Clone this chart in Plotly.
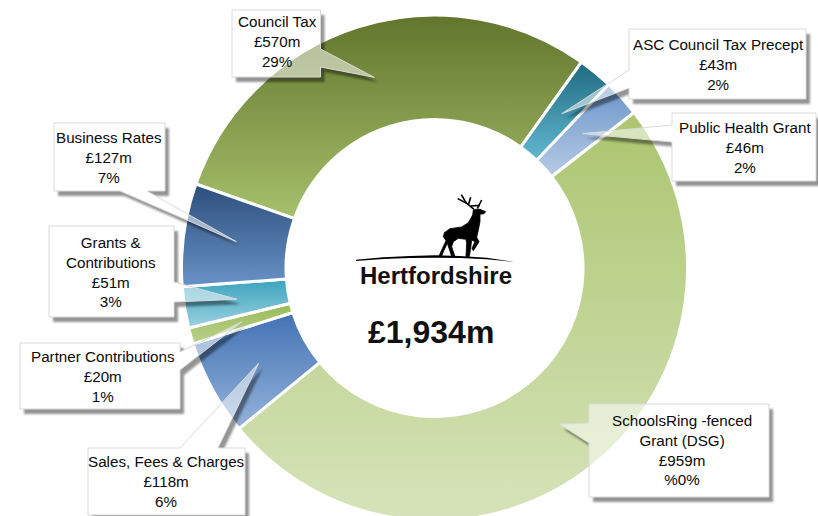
import math
import json
import plotly.graph_objects as go

W, H = 818, 524  # the page shows 516 px; the ring runs off the bottom edge as in the reference
CX, CY, R_DOMAIN, R_IN = 434.5, 268, 253, 148.5
R_MID = 200
ROTATION = -70.6

labels = ["Council Tax", "ASC Council Tax Precept", "Public Health Grant",
          "SchoolsRing -fenced<br>Grant (DSG)", "Sales, Fees & Charges",
          "Partner Contributions", "Grants &<br>Contributions", "Business Rates"]
values = [570, 43, 46, 959, 118, 20, 51, 127]
amounts = ["£570m", "£43m", "£46m", "£959m", "£118m", "£20m", "£51m", "£127m"]
shares = ["29%", "2%", "2%", "%0%", "6%", "1%", "3%", "7%"]
total_label = "£1,934m"
brand = "Hertfordshire"

grad_top = ["#61752c", "#1f6a80", "#6a95cb", "#abc56f", "#4272b4", "#9aba58", "#3aa3be", "#2d4e7b"]
grad_bot = ["#a6c06c", "#62b8d0", "#b8cbe4", "#d6e3ba", "#95b3da", "#bbd18c", "#9dd1e0", "#6892c7"]
mid_cols = ["#84a04c", "#408fa8", "#91b0d7", "#c0d494", "#6c92c7", "#aac572", "#6bbacf", "#4a70a1"]

# callout box: left, top, right, bottom (px); wedge base on box edge; text centre
boxes = [(232, 10, 320.5, 77), (629, 29, 806, 99), (672, 113, 816, 181), (589, 404, 769, 497),
         (88, 448, 245, 515), (20, 343, 180, 409), (49, 226, 174, 317), (54, 123, 165, 191)]
bases = [("r", 49, 67), ("l", 70, 88), ("l", 125, 142), ("l", 423, 443),
         ("t", 180, 218), ("r", 352, 370), ("r", 282, 302), ("b", 120, 147)]
text_xy = [(277, 42), (718, 65), (745, 147), (682, 450), (166, 481), (103, 376), (111, 272), (109, 157)]


def X(p):
    return p / W


def Y(p):
    return 1 - p / H


def poly(pts, close=True):
    s = "M" + " L".join(f"{X(x):.5f},{Y(y):.5f}" for x, y in pts)
    return s + (" Z" if close else "")


def tip(i):
    tot = sum(values)
    a = ROTATION + 360 * (sum(values[:i]) + values[i] / 2) / tot
    return CX + R_MID * math.sin(math.radians(a)), CY - R_MID * math.cos(math.radians(a))


def callout(i, dx=0, dy=0):
    l, t, r, b = boxes[i]
    side, a, c = bases[i]
    tp = tip(i)
    if side == "r":
        pts = [(l, t), (r, t), (r, a), tp, (r, c), (r, b), (l, b)]
    elif side == "l":
        pts = [(l, t), (r, t), (r, b), (l, b), (l, c), tp, (l, a)]
    elif side == "t":
        pts = [(l, t), (a, t), tp, (c, t), (r, t), (r, b), (l, b)]
    else:
        pts = [(l, t), (r, t), (r, b), (c, b), tp, (a, b), (l, b)]
    return [(x + dx, y + dy) for x, y in pts]


fig = go.Figure(go.Pie(
    labels=[s.replace("<br>", " ") for s in labels], values=values, sort=False, direction="clockwise",
    rotation=ROTATION, hole=R_IN / R_DOMAIN, textinfo="none", hoverinfo="skip", showlegend=False,
    marker=dict(colors=mid_cols, line=dict(color="white", width=3)),
    domain=dict(x=[(CX - R_DOMAIN) / W, (CX + R_DOMAIN) / W], y=[1 - (CY + R_DOMAIN) / H, 1 - (CY - R_DOMAIN) / H]),
))

shapes = []
n = len(values)
for i in range(n):  # shadows: indices 0..n-1
    shapes.append(dict(type="path", xref="paper", yref="paper", layer="above",
                       path=poly(callout(i, 4, 5)), fillcolor="rgba(0,0,0,0.42)", line=dict(width=0)))
for i in range(n):  # callouts: indices n..2n-1
    shapes.append(dict(type="path", xref="paper", yref="paper", layer="above",
                       path=poly(callout(i)), fillcolor="rgba(255,255,255,0.52)",
                       line=dict(color="#dadada", width=1)))


def Z(x, y):  # logo coordinates
    return (340 + x / 3, 180 + y / 3)


stag = [(313, 158), (330, 146), (365, 141), (385, 128), (398, 105), (400, 90), (410, 88), (420, 88), (437, 95),
        (432, 101), (420, 103), (420, 125), (415, 150), (410, 172), (417, 185), (408, 200), (400, 212), (396, 205),
        (405, 185), (395, 180), (392, 205), (388, 230), (378, 230), (380, 190), (378, 178), (355, 175), (340, 185),
        (335, 200), (345, 230), (335, 230), (327, 205), (322, 190), (310, 215), (305, 228), (297, 228), (305, 210),
        (318, 182), (310, 170)]
shapes.append(dict(type="path", xref="paper", yref="paper", layer="above",
                   path=poly([Z(*p) for p in stag]), fillcolor="black", line=dict(color="black", width=0.8)))
for ant in ([(402, 88), (378, 68), (364, 44)], [(380, 70), (353, 56)], [(412, 86), (425, 60)],
            [(392, 78), (420, 76)], [(386, 72), (392, 52)]):
    shapes.append(dict(type="path", xref="paper", yref="paper", layer="above",
                       path=poly([Z(*p) for p in ant], close=False), line=dict(color="black", width=1.6)))
hill_top = [(48, 239), (130, 232), (210, 228), (285, 226), (360, 228), (440, 233), (522, 246)]
hill_bot = [(440, 238), (360, 234), (285, 233), (210, 234), (130, 237), (48, 243)]
shapes.append(dict(type="path", xref="paper", yref="paper", layer="above",
                   path=poly([Z(*p) for p in hill_top + hill_bot]), fillcolor="black", line=dict(width=0)))

annotations = []
for i in range(n):
    annotations.append(dict(xref="paper", yref="paper", x=X(text_xy[i][0]), y=Y(text_xy[i][1]),
                            xanchor="center", yanchor="middle", showarrow=False, align="center",
                            text=f"{labels[i]}<br>{amounts[i]}<br>{shares[i]}",
                            font=dict(family="Liberation Sans", size=15.2, color="#0a0a0a")))
annotations.append(dict(xref="paper", yref="paper", x=X(436), y=Y(275), xanchor="center", yanchor="middle",
                        showarrow=False, text=brand, font=dict(family="Liberation Sans", size=24, color="#111111", weight="bold")))
annotations.append(dict(xref="paper", yref="paper", x=X(431), y=Y(331.5), xanchor="center", yanchor="middle",
                        showarrow=False, text=total_label, font=dict(family="Liberation Sans", size=32, color="#111111", weight="bold")))

fig.update_layout(width=W, height=H, margin=dict(l=0, r=0, t=0, b=0), paper_bgcolor="white",
                  shapes=shapes, annotations=annotations, showlegend=False)

post = """
document.body.style.margin = '0';
document.documentElement.style.overflow = 'hidden';
document.body.style.overflow = 'hidden';
var TOP = %s, BOT = %s, N = %d;
var gd = document.getElementById('{plot_id}');
var svg = gd.querySelector('svg.main-svg');
var NS = 'http://www.w3.org/2000/svg';
var defs = document.createElementNS(NS, 'defs');
svg.insertBefore(defs, svg.firstChild);
var blur = document.createElementNS(NS, 'filter');
blur.setAttribute('id', 'shblur');
blur.setAttribute('x', '-20%%'); blur.setAttribute('y', '-20%%');
blur.setAttribute('width', '140%%'); blur.setAttribute('height', '140%%');
var fe = document.createElementNS(NS, 'feGaussianBlur');
fe.setAttribute('stdDeviation', '1');
blur.appendChild(fe); defs.appendChild(blur);
TOP.forEach(function (c, i) {
  var g = document.createElementNS(NS, 'linearGradient');
  g.setAttribute('id', 'sg' + i);
  g.setAttribute('x1', '0'); g.setAttribute('y1', '0'); g.setAttribute('x2', '0'); g.setAttribute('y2', '1');
  [[0, c], [1, BOT[i]]].forEach(function (s) {
    var st = document.createElementNS(NS, 'stop');
    st.setAttribute('offset', s[0]); st.setAttribute('stop-color', s[1]);
    g.appendChild(st);
  });
  defs.appendChild(g);
});
gd.querySelectorAll('.slice path.surface').forEach(function (p, i) {
  p.style.fill = 'url(#sg' + i + ')';
});
var sh = {};
gd.querySelectorAll('.shapelayer path[data-index]').forEach(function (p) {
  sh[p.getAttribute('data-index')] = p;
});
for (var i = 0; i < N; i++) {
  var m = document.createElementNS(NS, 'mask');
  m.setAttribute('id', 'shm' + i);
  m.setAttribute('maskUnits', 'userSpaceOnUse');
  m.setAttribute('x', '0'); m.setAttribute('y', '0');
  m.setAttribute('width', '%d'); m.setAttribute('height', '%d');
  var r = document.createElementNS(NS, 'rect');
  r.setAttribute('width', '%d'); r.setAttribute('height', '%d'); r.setAttribute('fill', 'white');
  m.appendChild(r);
  var k = document.createElementNS(NS, 'path');
  k.setAttribute('d', sh[N + i].getAttribute('d')); k.setAttribute('fill', 'black');
  m.appendChild(k);
  defs.appendChild(m);
  sh[i].setAttribute('mask', 'url(#shm' + i + ')');
  sh[i].setAttribute('filter', 'url(#shblur)');
}
""" % (json.dumps(grad_top), json.dumps(grad_bot), n, W, H, W, H)

fig.write_html("out.html", post_script=post, config=dict(displayModeBar=False))
